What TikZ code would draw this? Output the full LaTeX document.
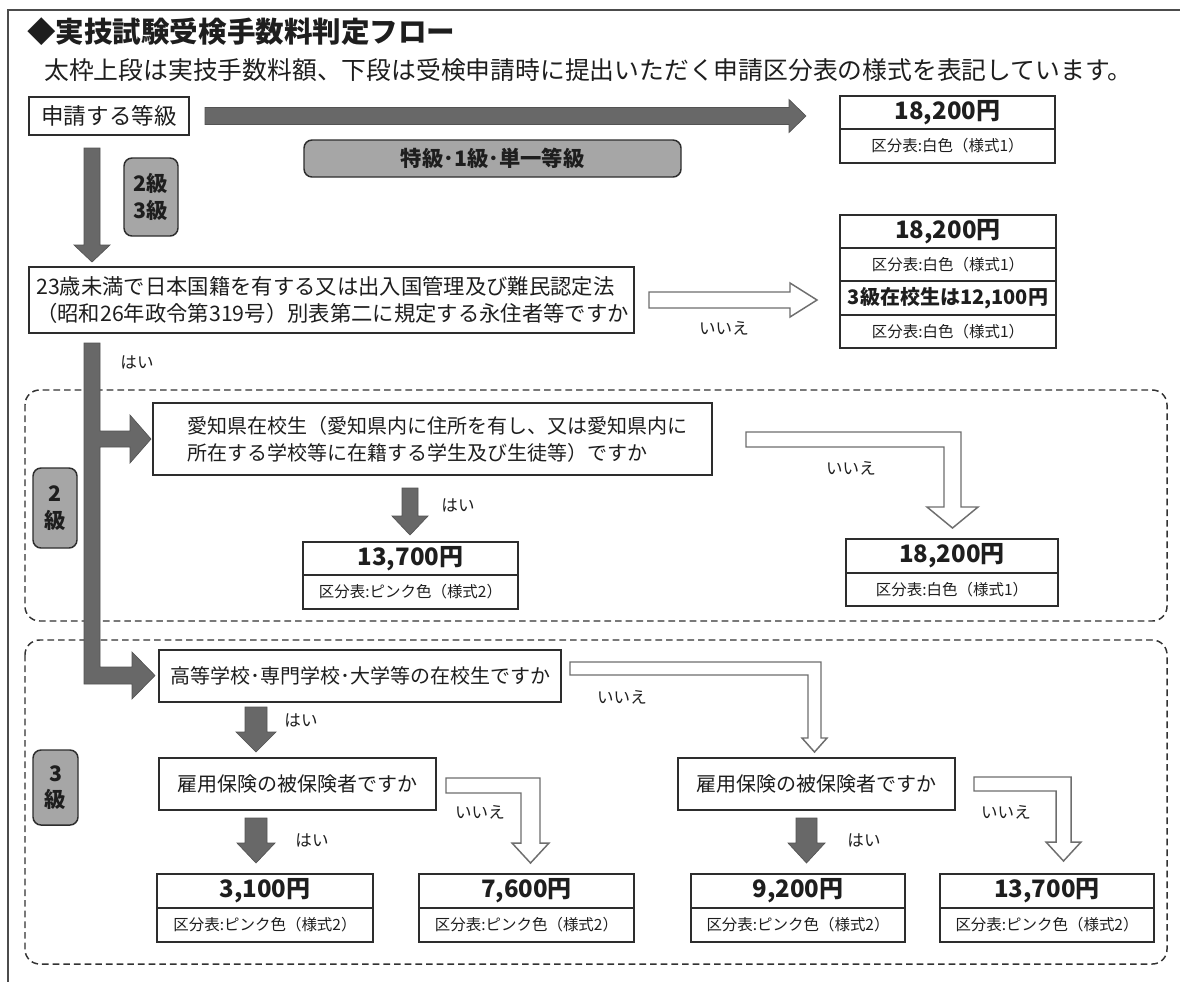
\documentclass[tikz,border=0pt]{standalone}
\usepackage{fontspec}
\setmainfont{Noto Sans CJK JP}
\definecolor{agray}{RGB}{104,104,104}
\definecolor{wgray}{RGB}{110,110,110}
\definecolor{lblf}{RGB}{166,166,166}
\definecolor{boxc}{RGB}{45,45,45}
\definecolor{txt}{RGB}{30,30,30}
\definecolor{dashc}{RGB}{50,50,50}
\newcommand\myTitle{\fontsize{21.4}{25}\selectfont\bfseries}
\newcommand\mySub{\fontsize{18.6}{22}\selectfont}
\newcommand\myA{\fontsize{16.9}{20}\selectfont}
\newcommand\myQ{\fontsize{16}{20.25}\selectfont}
\newcommand\myQb{\fontsize{15}{20.25}\selectfont}
\newcommand\myPrice{\fontsize{18}{21}\selectfont\bfseries}
\newcommand\myKu{\fontsize{11.6}{14}\selectfont}
\newcommand\myPs{\fontsize{15}{18}\selectfont\bfseries}
\newcommand\myLbl{\fontsize{16}{20}\selectfont\bfseries}
\newcommand\myYN{\fontsize{12.4}{15}\selectfont}
\begin{document}
\begin{tikzpicture}[x=0.75pt,y=-0.75pt,
  box/.style={draw=boxc, line width=1.1pt, fill=white, inner sep=0pt, outer sep=0pt, text=txt},
  lbl/.style={draw=boxc, fill=lblf, rounded corners=6pt, line width=1.1pt, inner sep=0pt, outer sep=0pt, font=\myLbl, align=center, text=txt},
  dbox/.style={draw=dashc, dash pattern=on 5pt off 3pt, line width=1.1pt, rounded corners=11pt},
  farrow/.style={fill=agray, draw=agray!80!black, line width=0.5pt},
  warrow/.style={fill=white, draw=wgray, line width=1.1pt},
  yn/.style={font=\myYN, text=txt, inner sep=0pt}]
\useasboundingbox (0,0) rectangle (1180,982);
\fill[white] (0,0) rectangle (1180,982);
% frame
\draw[line width=1.5pt, color=black!70] (1180,10) -- (8,10) -- (8,982);
% titles
\node[anchor=west, inner sep=0pt, text=txt] (title) at (27,32) {\myTitle ◆実技試験受検手数料判定フロー};
\node[anchor=west, inner sep=0pt, text=txt] (sub) at (44,70) {\mySub 太枠上段は実技手数料額、下段は受検申請時に提出いただく申請区分表の様式を表記しています。};
% dashed groups
\draw[dbox] (25,390) rectangle (1167,621);
\draw[dbox] (25,640) rectangle (1167,964);
% top row
\node[box, minimum width=120pt, minimum height=28.5pt, font=\myA] (a) at (109,116) {申請する等級};
\draw[farrow] (205,107.5) -- (789,107.5) -- (789,99.5) -- (806,116) -- (789,132.5) -- (789,124.5) -- (205,124.5) -- cycle;
\node[box, minimum width=161.25pt, minimum height=24.75pt, font=\myPrice] (t1a) at (947.5,112.5) {18,200円};
\node[box, minimum width=161.25pt, minimum height=25.5pt, font=\myKu] (t1b) at (947.5,146) {区分表:白色（様式1）};
\node[lbl, minimum width=282.75pt, minimum height=27.75pt] (l1) at (492.5,158.5) {特級･1級･単一等級};
\node[lbl, minimum width=40.5pt, minimum height=58.5pt] (l23) at (151,197) {2級\\3級};
\draw[farrow] (84,148) -- (100,148) -- (100,245) -- (110,245) -- (92,262) -- (74,245) -- (84,245) -- cycle;
% Q1
\node[box, minimum width=453.75pt, minimum height=49.5pt] (q1) at (331.5,300) {};
\node[anchor=west, align=left, inner sep=0pt, font=\myQ, text=txt] (q1t) at (36,300) {23歳未満で日本国籍を有する又は出入国管理及び難民認定法\\（昭和26年政令第319号）別表第二に規定する永住者等ですか};
\draw[warrow] (649,292) -- (790,292) -- (790,283) -- (817,300) -- (790,317) -- (790,308) -- (649,308) -- cycle;
\node[yn] (n1) at (724,328) {いいえ};
\node[box, minimum width=162pt, minimum height=24.75pt, font=\myPrice] (t2a) at (948,231.5) {18,200円};
\node[box, minimum width=162pt, minimum height=24.75pt, font=\myKu] (t2b) at (948,264.5) {区分表:白色（様式1）};
\node[box, minimum width=162pt, minimum height=25.5pt, font=\myPs] (t2c) at (948,298) {3級在校生は12,100円};
\node[box, minimum width=162pt, minimum height=24.75pt, font=\myKu] (t2d) at (948,331.5) {区分表:白色（様式1）};
\draw[boxc, line width=2pt] (t2b.south west) -- (t2b.south east);
% trunk
\draw[farrow] (84,343) -- (100,343) -- (100,431) -- (130,431) -- (130,415) -- (151,439) -- (130,463) -- (130,447) -- (100,447)
  -- (100,667) -- (132,667) -- (132,652) -- (155,675.5) -- (132,699) -- (132,684) -- (84,684) -- cycle;
\node[yn] (y1) at (137,362) {はい};
% 2 kyu
\node[lbl, minimum width=33pt, minimum height=60pt] (l2) at (55,508) {2\\級};
\node[box, minimum width=419.25pt, minimum height=54pt] (q2) at (432.5,439) {};
\node[anchor=west, align=left, inner sep=0pt, font=\myQb, text=txt] (q2t) at (187,439) {愛知県在校生（愛知県内に住所を有し、又は愛知県内に\\所在する学校等に在籍する学生及び生徒等）ですか};
\draw[farrow] (402,488) -- (418,488) -- (418,516) -- (428,516) -- (410,535) -- (392,516) -- (402,516) -- cycle;
\node[yn] (y2) at (458,505) {はい};
\node[box, minimum width=161.25pt, minimum height=24.75pt, font=\myPrice] (p2a) at (410.5,558.5) {13,700円};
\node[box, minimum width=161.25pt, minimum height=25.5pt, font=\myKu] (p2b) at (410.5,592) {区分表:ピンク色（様式2）};
\draw[warrow] (746,432) -- (961,432) -- (961,507) -- (978,507) -- (952.5,528) -- (927,507) -- (944,507) -- (944,447) -- (746,447) -- cycle;
\node[yn] (n2) at (851,468) {いいえ};
\node[box, minimum width=159pt, minimum height=25.5pt, font=\myPrice] (r2a) at (952,556) {18,200円};
\node[box, minimum width=159pt, minimum height=24.75pt, font=\myKu] (r2b) at (952,589.5) {区分表:白色（様式1）};
% 3 kyu
\node[lbl, minimum width=33.75pt, minimum height=56.25pt] (l3) at (55.5,787.5) {3\\級};
\node[box, minimum width=301.5pt, minimum height=39pt, font=\myQb] (q3) at (360,676) {高等学校･専門学校･大学等の在校生ですか};
\draw[farrow] (245,707) -- (267,707) -- (267,732) -- (276,732) -- (256,752) -- (236,732) -- (245,732) -- cycle;
\node[yn] (y3) at (301,720) {はい};
\draw[warrow] (570,662) -- (821,662) -- (821,738) -- (827,738) -- (814.5,752) -- (802,738) -- (808,738) -- (808,675) -- (570,675) -- cycle;
\node[yn] (n3) at (622,697) {いいえ};
\node[box, minimum width=207.75pt, minimum height=39pt, font=\myQb] (q4l) at (297.5,784) {雇用保険の被保険者ですか};
\node[box, minimum width=207.75pt, minimum height=39pt, font=\myQb] (q4r) at (816.5,784) {雇用保険の被保険者ですか};
% q4l outputs
\draw[farrow] (245,818) -- (267,818) -- (267,843) -- (275,843) -- (256,863) -- (237,843) -- (245,843) -- cycle;
\node[yn] (y4) at (312,840) {はい};
\draw[warrow] (446,778) -- (540,778) -- (540,843) -- (549,843) -- (530.5,863) -- (512,843) -- (521,843) -- (521,793) -- (446,793) -- cycle;
\node[yn] (n4) at (480,812) {いいえ};
% q4r outputs
\draw[farrow] (796,818) -- (817,818) -- (817,843) -- (825,843) -- (806.5,863) -- (788,843) -- (796,843) -- cycle;
\node[yn] (y5) at (864,840) {はい};
\draw[warrow] (974,777) -- (1071,777) -- (1071,842) -- (1081,842) -- (1063.5,861) -- (1046,842) -- (1056,842) -- (1056,791) -- (974,791) -- cycle;
\node[yn] (n5) at (1006,812) {いいえ};
% bottom boxes
\node[box, minimum width=162pt, minimum height=25.5pt, font=\myPrice] (b1a) at (265,891) {3,100円};
\node[box, minimum width=162pt, minimum height=25.5pt, font=\myKu] (b1b) at (265,925) {区分表:ピンク色（様式2）};
\node[box, minimum width=161.25pt, minimum height=25.5pt, font=\myPrice] (b2a) at (526.5,891) {7,600円};
\node[box, minimum width=161.25pt, minimum height=25.5pt, font=\myKu] (b2b) at (526.5,925) {区分表:ピンク色（様式2）};
\node[box, minimum width=160.5pt, minimum height=25.5pt, font=\myPrice] (b3a) at (798,891) {9,200円};
\node[box, minimum width=160.5pt, minimum height=25.5pt, font=\myKu] (b3b) at (798,925) {区分表:ピンク色（様式2）};
\node[box, minimum width=160.5pt, minimum height=25.5pt, font=\myPrice] (b4a) at (1047,891) {13,700円};
\node[box, minimum width=160.5pt, minimum height=25.5pt, font=\myKu] (b4b) at (1047,925) {区分表:ピンク色（様式2）};
\end{tikzpicture}
\end{document}
